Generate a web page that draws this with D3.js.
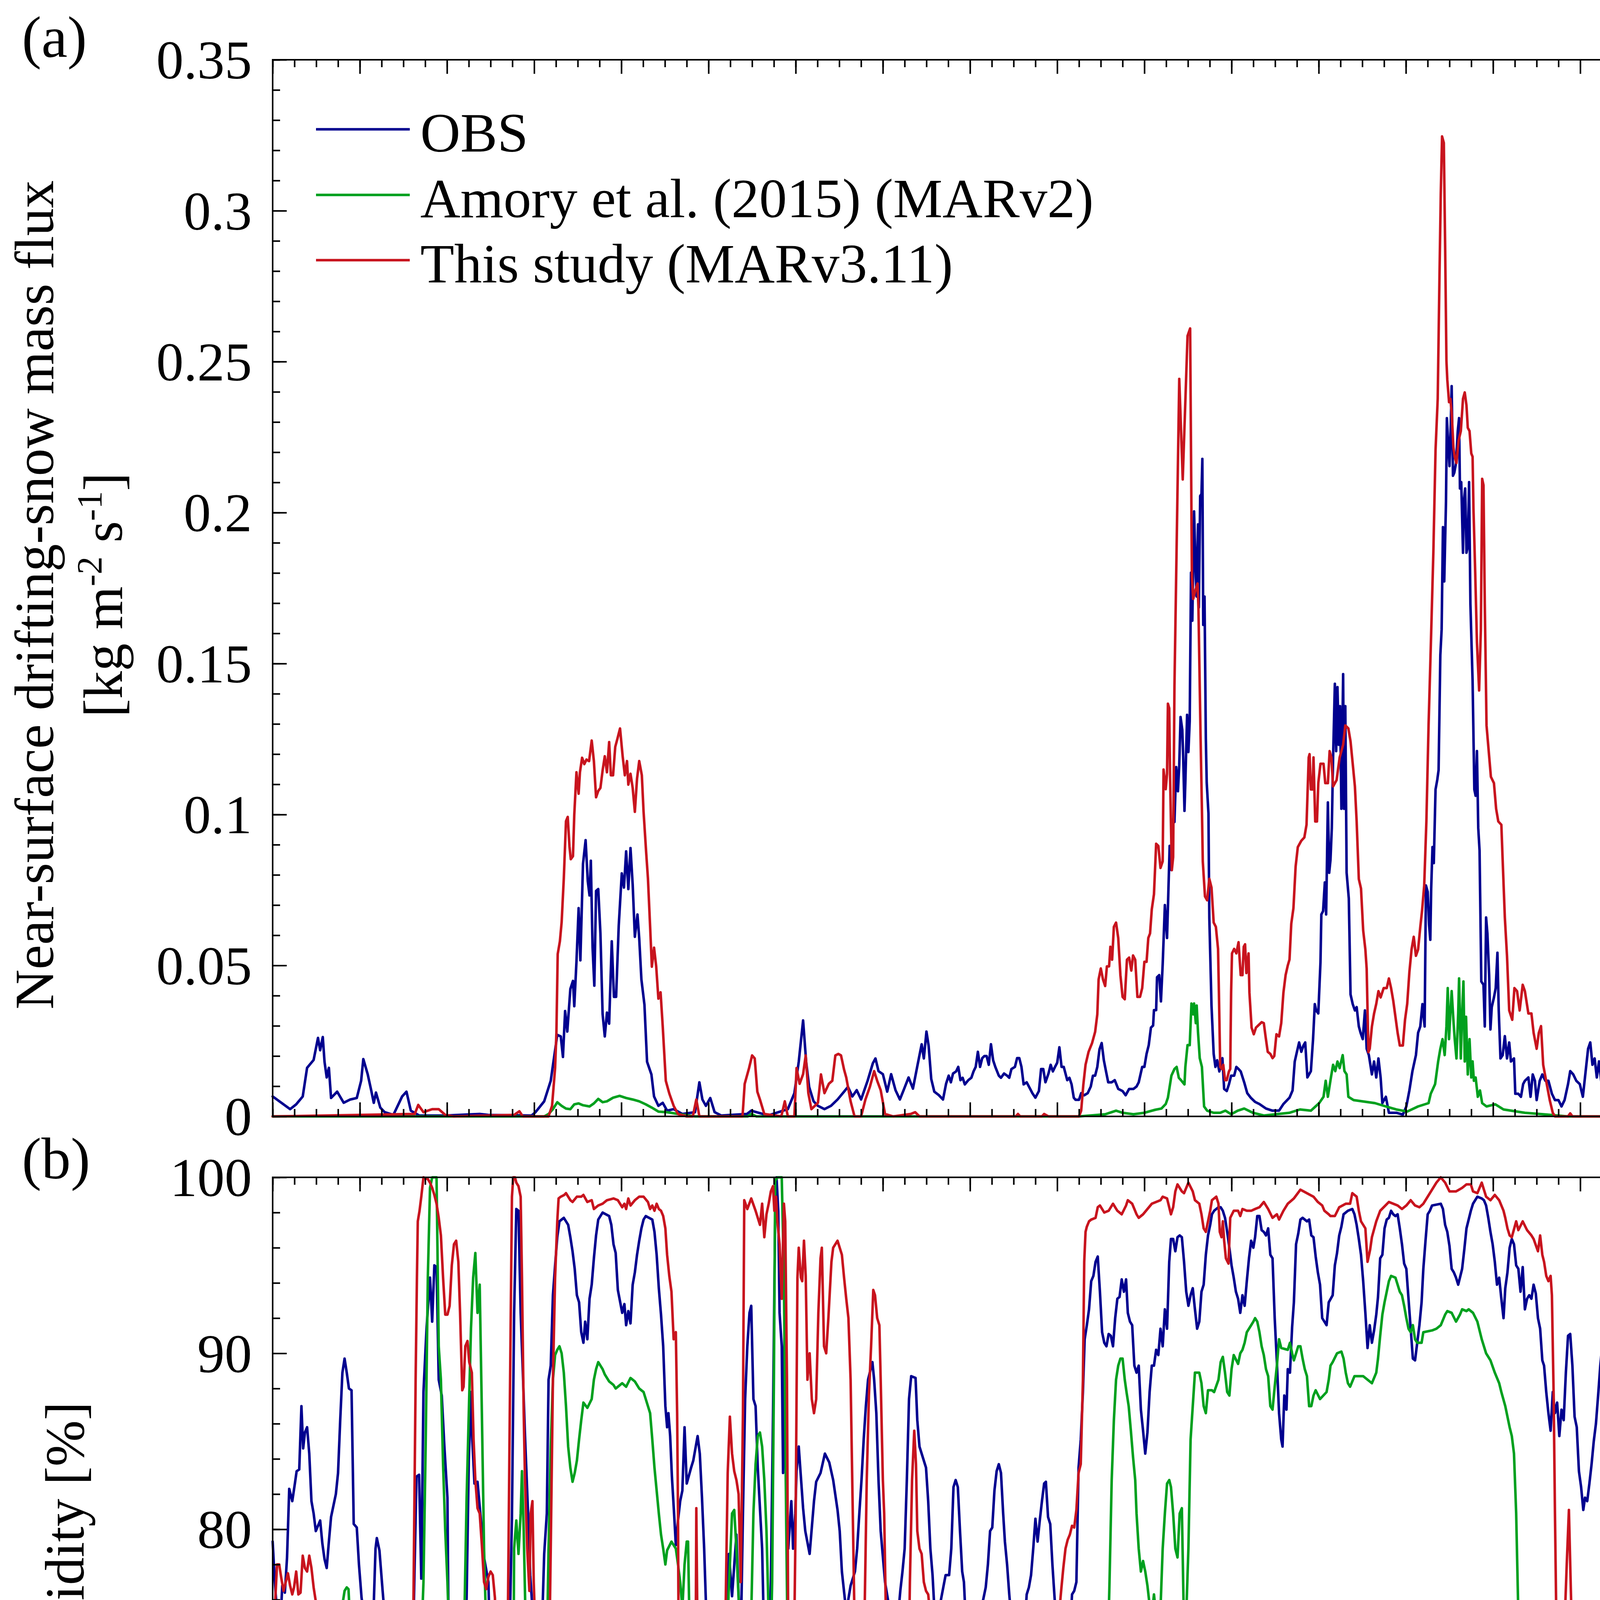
<!DOCTYPE html>
<html><head><meta charset="utf-8">
<script src="https://cdn.jsdelivr.net/npm/d3@7"></script>
<style>
html,body{margin:0;padding:0;background:#fff;overflow:hidden;}
svg{display:block;}
svg text{font-family:"Liberation Serif","Times New Roman",serif;fill:#000;}
</style>
</head><body>
<svg id="chart" width="4205" height="6151"></svg>
<script>
// ---------------- tick labels / categories ----------------
const dayLabels = [1, 11, 21, 31];
const fluxTickValues = [0, 0.05, 0.1, 0.15, 0.2, 0.25, 0.3, 0.35];
const fluxTickLabels = ["0", "0.05", "0.1", "0.15", "0.2", "0.25", "0.3", "0.35"];
const rhTickValues = [40, 50, 60, 70, 80, 90, 100];
const rhTickLabels = ["40", "50", "60", "70", "80", "90", "100"];
const seriesNames = ["OBS", "Amory et al. (2015) (MARv2)", "This study (MARv3.11)"];
const seriesColors = ["#00008f", "#00a01e", "#c8141e"];

// ---------------- (a) drifting-snow mass flux [day, kg m-2 s-1] ----------------
const fluxObs = [[1.00,0.0066],[1.20,0.0045],[1.40,0.0024],[1.54,0.0040],[1.69,0.0066],[1.79,0.0161],[1.94,0.0187],[2.04,0.0260],[2.09,0.0219],[2.15,0.0263],[2.19,0.0181],[2.24,0.0129],[2.29,0.0161],[2.34,0.0061],[2.48,0.0082],[2.63,0.0045],[2.78,0.0056],[2.93,0.0061],[3.03,0.0118],[3.08,0.0190],[3.18,0.0140],[3.26,0.0087],[3.32,0.0045],[3.37,0.0079],[3.47,0.0029],[3.57,0.0014],[3.77,0.0005],[3.97,0.0066],[4.07,0.0082],[4.17,0.0019],[4.36,0.0003],[4.96,0.0003],[5.75,0.0008],[5.95,0.0005],[6.94,0.0003],[7.03,0.0014],[7.23,0.0050],[7.38,0.0118],[7.53,0.0270],[7.61,0.0265],[7.66,0.0197],[7.71,0.0349],[7.76,0.0281],[7.83,0.0422],[7.89,0.0449],[7.92,0.0365],[7.97,0.0512],[8.02,0.0690],[8.06,0.0517],[8.12,0.0836],[8.18,0.0915],[8.23,0.0779],[8.27,0.0732],[8.30,0.0847],[8.34,0.0559],[8.38,0.0433],[8.42,0.0747],[8.47,0.0753],[8.52,0.0606],[8.57,0.0339],[8.62,0.0265],[8.67,0.0344],[8.72,0.0307],[8.78,0.0580],[8.83,0.0396],[8.88,0.0396],[8.94,0.0632],[9.01,0.0805],[9.06,0.0758],[9.11,0.0878],[9.16,0.0753],[9.21,0.0889],[9.26,0.0768],[9.31,0.0595],[9.37,0.0669],[9.41,0.0590],[9.46,0.0454],[9.53,0.0370],[9.59,0.0181],[9.69,0.0139],[9.75,0.0066],[9.85,0.0035],[9.95,0.0045],[10.05,0.0019],[10.20,0.0024],[10.40,0.0008],[10.69,0.0014],[10.79,0.0113],[10.86,0.0056],[10.94,0.0035],[11.04,0.0061],[11.14,0.0014],[11.29,0.0003],[11.88,0.0008],[11.98,0.0019],[12.37,0.0003],[12.82,0.0024],[12.97,0.0077],[13.07,0.0181],[13.17,0.0318],[13.24,0.0181],[13.31,0.0097],[13.41,0.0050],[13.51,0.0035],[13.66,0.0024],[13.81,0.0035],[13.96,0.0056],[14.11,0.0082],[14.20,0.0098],[14.30,0.0066],[14.40,0.0087],[14.50,0.0056],[14.65,0.0118],[14.77,0.0176],[14.83,0.0192],[14.90,0.0150],[15.00,0.0140],[15.10,0.0082],[15.19,0.0140],[15.29,0.0087],[15.39,0.0056],[15.49,0.0092],[15.59,0.0129],[15.69,0.0092],[15.79,0.0166],[15.89,0.0239],[15.94,0.0192],[16.00,0.0281],[16.05,0.0234],[16.11,0.0124],[16.18,0.0082],[16.28,0.0071],[16.38,0.0056],[16.45,0.0108],
[16.51,0.0135],[16.56,0.0113],[16.61,0.0142],[16.68,0.0149],[16.73,0.0164],[16.78,0.0120],[16.83,0.0128],[16.88,0.0106],[16.96,0.0120],[17.03,0.0128],[17.08,0.0149],[17.13,0.0164],[17.18,0.0214],[17.23,0.0164],[17.28,0.0193],[17.33,0.0200],[17.38,0.0200],[17.43,0.0171],[17.48,0.0239],[17.53,0.0186],[17.58,0.0164],[17.66,0.0135],[17.71,0.0128],[17.78,0.0142],[17.85,0.0135],[17.90,0.0128],[17.95,0.0157],[18.03,0.0164],[18.08,0.0193],[18.13,0.0193],[18.18,0.0164],[18.23,0.0106],[18.30,0.0113],[18.38,0.0091],[18.43,0.0077],[18.50,0.0062],[18.58,0.0084],[18.63,0.0157],[18.68,0.0157],[18.73,0.0113],[18.80,0.0142],[18.85,0.0171],[18.90,0.0149],[18.95,0.0164],[19.00,0.0178],[19.05,0.0229],[19.10,0.0164],[19.15,0.0164],[19.23,0.0120],[19.28,0.0128],[19.33,0.0106],[19.38,0.0062],[19.42,0.0055],[19.50,0.0055],[19.55,0.0077],[19.62,0.0070],[19.70,0.0077],[19.77,0.0099],[19.82,0.0135],[19.87,0.0135],[19.92,0.0164],[19.97,0.0222],[20.02,0.0243],[20.07,0.0186],[20.12,0.0149],[20.17,0.0113],[20.25,0.0113],[20.32,0.0120],[20.40,0.0091],[20.50,0.0084],[20.57,0.0070],[20.65,0.0091],[20.75,0.0091],[20.82,0.0099],[20.87,0.0113],[20.95,0.0164],[21.00,0.0164],[21.05,0.0207],[21.10,0.0236],[21.15,0.0294],[21.20,0.0301],[21.22,0.0352],[21.27,0.0352],[21.29,0.0461],[21.34,0.0468],[21.38,0.0381],[21.42,0.0504],[21.47,0.0700],[21.52,0.0591],[21.55,0.0743],[21.58,0.0896],[21.62,0.0816],[21.65,0.0983],[21.69,0.0975],[21.73,0.1157],[21.77,0.1077],[21.80,0.1164],[21.83,0.1323],[21.87,0.1280],[21.89,0.1193],[21.92,0.1012],[21.94,0.1106],[21.98,0.1330],[22.01,0.1207],[22.04,0.1309],[22.07,0.1801],[22.10,0.1642],[22.14,0.2004],[22.18,0.1787],[22.20,0.1722],[22.23,0.1961],[22.25,0.1686],[22.28,0.2055],[22.31,0.2062],[22.33,0.2178],[22.35,0.1628],[22.38,0.1722],[22.41,0.1251],[22.43,0.1106],[22.47,0.1004],[22.49,0.0657],[22.54,0.0367],[22.59,0.0207],[22.63,0.0164],[22.67,0.0186],[22.72,0.0149],[22.79,0.0193],[22.83,0.0091],[22.89,0.0084],[22.94,0.0106],[22.99,0.0135],[23.06,0.0135],[23.11,0.0164],[23.16,0.0157],[23.21,0.0149],[23.29,0.0113],[23.36,0.0077],[23.44,0.0062],[23.54,0.0048],[23.64,0.0041],[23.79,0.0026],[23.94,0.0019],[24.09,0.0019],[24.19,0.0041],[24.33,0.0062],
[24.40,0.0086],[24.45,0.0182],[24.50,0.0214],[24.55,0.0245],[24.60,0.0214],[24.65,0.0235],[24.69,0.0245],[24.74,0.0129],[24.82,0.0150],[24.87,0.0256],[24.91,0.0372],[24.94,0.0351],[24.99,0.0341],[25.04,0.0510],[25.06,0.0669],[25.10,0.0680],[25.14,0.0775],[25.17,0.0669],[25.21,0.1040],[25.24,0.0807],[25.27,0.0850],[25.30,0.0955],[25.33,0.1189],[25.37,0.1433],[25.40,0.1210],[25.43,0.1422],[25.46,0.1231],[25.49,0.1359],[25.52,0.1019],[25.56,0.1465],[25.58,0.1019],[25.61,0.1359],[25.64,0.0807],[25.69,0.0722],[25.73,0.0404],[25.78,0.0372],[25.83,0.0351],[25.87,0.0362],[25.92,0.0298],[25.96,0.0277],[26.01,0.0256],[26.06,0.0351],[26.10,0.0224],[26.15,0.0203],[26.22,0.0139],[26.27,0.0182],[26.32,0.0129],[26.37,0.0192],[26.42,0.0129],[26.46,0.0044],[26.54,0.0065],[26.61,0.0012],[26.78,0.0012],[26.93,0.0006],[27.01,0.0033],[27.08,0.0086],[27.15,0.0150],[27.23,0.0203],[27.28,0.0277],[27.33,0.0298],[27.38,0.0372],[27.43,0.0298],[27.46,0.0765],[27.50,0.0744],[27.53,0.0638],[27.56,0.0585],[27.58,0.0754],[27.61,0.0892],[27.64,0.0839],[27.68,0.1083],[27.72,0.1115],[27.75,0.1147],[27.79,0.1528],[27.82,0.1613],[27.85,0.1952],[27.88,0.1772],[27.92,0.2037],[27.94,0.2313],[27.97,0.2228],[28.00,0.2154],[28.03,0.2292],[28.05,0.2419],[28.08,0.2122],[28.11,0.2132],[28.15,0.2164],[28.19,0.2270],[28.22,0.2313],[28.24,0.2080],[28.27,0.2101],[28.31,0.1867],[28.33,0.2037],[28.36,0.2080],[28.39,0.1867],[28.42,0.1888],[28.45,0.2101],[28.48,0.1698],[28.53,0.1443],[28.57,0.1083],[28.60,0.1062],[28.63,0.1210],[28.66,0.0955],[28.69,0.0881],[28.73,0.0447],[28.78,0.0436],[28.81,0.0298],[28.84,0.0659],[28.87,0.0606],[28.91,0.0468],[28.94,0.0288],[28.97,0.0362],[29.02,0.0394],[29.06,0.0425],[29.10,0.0542],[29.13,0.0351],[29.17,0.0192],[29.22,0.0203],[29.27,0.0266],[29.32,0.0192],[29.37,0.0245],[29.41,0.0182],[29.48,0.0192],[29.51,0.0075],[29.58,0.0075],[29.64,0.0065],[29.69,0.0107],[29.73,0.0118],[29.81,0.0129],[29.86,0.0065],[29.91,0.0139],[29.96,0.0118],[30.00,0.0054],[30.07,0.0118],[30.13,0.0139],[30.20,0.0118],[30.27,0.0118],[30.35,0.0075],[30.42,0.0054],[30.50,0.0054],[30.57,0.0033],[30.64,0.0054],[30.72,0.0107],[30.77,0.0150],[30.84,0.0139],[30.91,0.0118],[30.99,0.0107],[31.06,0.0065],[31.14,0.0171],[31.18,0.0224],[31.23,0.0245],[31.28,0.0171],[31.33,0.0192],[31.38,0.0129],[31.43,0.0182],[31.48,0.0118],[31.55,0.0065],[31.63,0.0033],[31.70,0.0012],[31.80,0.0022],[31.87,0.0027],[31.95,0.0012],[32.00,0.0044]];

const fluxMARv2 = [[1.00,0],[7.23,0],[7.33,0.0008],[7.43,0.0024],[7.53,0.0047],[7.63,0.0035],[7.73,0.0026],[7.83,0.0024],[7.92,0.0040],[8.02,0.0043],[8.12,0.0037],[8.27,0.0033],[8.37,0.0043],[8.47,0.0058],[8.57,0.0047],[8.67,0.0050],[8.81,0.0062],[8.96,0.0068],[9.11,0.0061],[9.26,0.0056],[9.41,0.0050],[9.56,0.0040],[9.70,0.0029],[9.85,0.0016],[10.05,0.0014],[10.30,0.0008],[10.69,0],[11.90,0],[11.98,0.0008],[12.10,0],
[19.50,0],[20.10,0.0007],[20.35,0.0019],[20.50,0.0012],[20.75,0.0007],[21.00,0.0012],[21.25,0.0022],[21.39,0.0026],[21.49,0.0041],[21.54,0.0062],[21.62,0.0135],[21.69,0.0157],[21.74,0.0164],[21.79,0.0128],[21.84,0.0120],[21.92,0.0106],[21.94,0.0164],[21.99,0.0236],[22.04,0.0236],[22.08,0.0374],[22.12,0.0338],[22.14,0.0374],[22.18,0.0309],[22.20,0.0367],[22.23,0.0280],[22.27,0.0193],[22.32,0.0164],[22.37,0.0033],[22.44,0.0019],[22.59,0.0012],[22.74,0.0012],[22.86,0.0019],[22.99,0.0007],[23.14,0.0019],[23.29,0.0026],[23.49,0.0012],[23.74,0.0003],
[24.33,0.0012],[24.57,0.0023],[24.82,0.0019],[25.01,0.0044],[25.11,0.0065],[25.16,0.0118],[25.21,0.0065],[25.28,0.0129],[25.33,0.0171],[25.38,0.0150],[25.43,0.0182],[25.48,0.0160],[25.55,0.0203],[25.59,0.0150],[25.64,0.0139],[25.68,0.0065],[25.80,0.0054],[26.29,0.0044],[26.54,0.0033],[26.78,0.0023],[27.03,0.0016],[27.28,0.0033],[27.52,0.0044],[27.57,0.0075],[27.67,0.0107],[27.74,0.0182],[27.79,0.0224],[27.84,0.0256],[27.89,0.0203],[27.93,0.0298],[27.96,0.0425],[27.99,0.0256],[28.02,0.0341],[28.05,0.0415],[28.09,0.0319],[28.12,0.0256],[28.16,0.0192],[28.20,0.0341],[28.22,0.0457],[28.26,0.0192],[28.29,0.0341],[28.32,0.0447],[28.35,0.0182],[28.38,0.0330],[28.42,0.0139],[28.46,0.0256],[28.50,0.0129],[28.53,0.0182],[28.56,0.0118],[28.60,0.0129],[28.65,0.0065],[28.70,0.0086],[28.75,0.0044],[28.85,0.0033],[29.05,0.0040],[29.24,0.0023],[29.73,0.0012],[30.23,0.0006],[30.72,0],[32.00,0]];

const fluxMARv311 = [[1.00,0],[4.26,0.0008],[4.34,0.0038],[4.46,0.0014],[4.66,0.0024],[4.81,0.0024],[4.96,0.0005],[5.15,0],[6.54,0.0005],[6.66,0.0017],[6.74,0],[7.33,0],[7.41,0.0035],[7.48,0.0160],[7.51,0.0276],[7.54,0.0538],[7.59,0.0580],[7.63,0.0643],[7.68,0.0789],[7.73,0.0978],[7.77,0.0992],[7.81,0.0894],[7.84,0.0852],[7.89,0.0862],[7.92,0.0999],[7.97,0.1140],[8.02,0.1069],[8.05,0.1140],[8.10,0.1188],[8.15,0.1167],[8.20,0.1182],[8.26,0.1177],[8.32,0.1245],[8.37,0.1177],[8.42,0.1057],[8.47,0.1078],[8.52,0.1088],[8.57,0.1146],[8.62,0.1193],[8.67,0.1140],[8.72,0.1240],[8.76,0.1130],[8.81,0.1130],[8.86,0.1224],[8.91,0.1251],[8.97,0.1285],[9.03,0.1193],[9.08,0.1130],[9.13,0.1177],[9.16,0.1099],[9.21,0.1135],[9.26,0.1088],[9.31,0.1009],[9.36,0.1119],[9.41,0.1177],[9.47,0.1130],[9.51,0.1009],[9.57,0.0873],[9.61,0.0789],[9.66,0.0629],[9.70,0.0496],[9.75,0.0559],[9.80,0.0496],[9.85,0.0390],[9.90,0.0411],[9.95,0.0297],[10.02,0.0118],[10.10,0.0076],[10.20,0.0035],[10.30,0.0008],[10.50,0],[10.64,0],[10.72,0.0056],[10.79,0],[11.78,0],[11.83,0.0108],[11.93,0.0160],[12.00,0.0202],[12.06,0.0192],[12.12,0.0082],[12.18,0.0056],[12.28,0.0008],[12.67,0],[12.75,0.0050],[12.82,0],[12.97,0],[13.02,0.0160],[13.09,0.0108],[13.17,0.0140],[13.23,0.0202],[13.29,0.0077],[13.36,0.0024],[13.44,0.0035],[13.51,0.0045],[13.58,0.0139],[13.66,0.0077],[13.76,0.0108],[13.84,0.0118],[13.91,0.0202],[13.98,0.0207],[14.04,0.0202],[14.11,0.0155],[14.16,0.0129],[14.26,0.0050],[14.35,0],[14.50,0],[14.60,0.0056],[14.70,0.0097],[14.80,0.0150],[14.87,0.0118],[14.95,0.0087],[15.05,0.0008],[15.24,0],[15.64,0.0008],[15.74,0.0014],[15.84,0],[18.05,0],[18.10,0.0008],[18.15,0],[18.65,0],[18.70,0.0008],[18.80,0],[19.50,0],
[19.55,0.0019],[19.60,0.0106],[19.65,0.0171],[19.72,0.0214],[19.80,0.0243],[19.87,0.0280],[19.92,0.0338],[19.95,0.0454],[20.00,0.0490],[20.05,0.0454],[20.10,0.0432],[20.14,0.0497],[20.19,0.0497],[20.22,0.0562],[20.26,0.0519],[20.30,0.0628],[20.35,0.0642],[20.40,0.0591],[20.45,0.0468],[20.50,0.0396],[20.55,0.0388],[20.60,0.0519],[20.65,0.0526],[20.70,0.0483],[20.74,0.0533],[20.79,0.0519],[20.84,0.0396],[20.90,0.0396],[20.95,0.0425],[21.00,0.0512],[21.05,0.0512],[21.09,0.0591],[21.13,0.0606],[21.17,0.0686],[21.22,0.0736],[21.27,0.0903],[21.32,0.0896],[21.37,0.0823],[21.42,0.0845],[21.44,0.1149],[21.49,0.1084],[21.52,0.1135],[21.54,0.1367],[21.57,0.1352],[21.59,0.1120],[21.63,0.0816],[21.66,0.0859],[21.69,0.1425],[21.80,0.2443],[21.88,0.2110],[21.99,0.2585],[22.05,0.2610],[22.09,0.1787],[22.12,0.1714],[22.17,0.1743],[22.22,0.1765],[22.24,0.1686],[22.29,0.1251],[22.32,0.1019],[22.34,0.0845],[22.39,0.0729],[22.44,0.0716],[22.49,0.0787],[22.54,0.0758],[22.59,0.0642],[22.64,0.0628],[22.69,0.0555],[22.71,0.0410],[22.74,0.0164],[22.78,0.0157],[22.81,0.0171],[22.85,0.0120],[22.89,0.0120],[22.94,0.0149],[22.97,0.0157],[22.99,0.0410],[23.01,0.0540],[23.06,0.0555],[23.11,0.0540],[23.16,0.0577],[23.21,0.0468],[23.25,0.0468],[23.28,0.0562],[23.31,0.0570],[23.34,0.0475],[23.39,0.0540],[23.41,0.0410],[23.46,0.0294],[23.51,0.0272],[23.56,0.0294],[23.61,0.0301],[23.69,0.0312],[23.74,0.0309],[23.78,0.0265],[23.83,0.0214],[23.89,0.0207],[23.94,0.0193],[23.98,0.0200],[24.03,0.0272],[24.09,0.0265],[24.14,0.0309],[24.19,0.0410],[24.24,0.0468],[24.29,0.0500],
[24.33,0.0520],[24.37,0.0638],[24.42,0.0690],[24.47,0.0828],[24.52,0.0892],[24.60,0.0913],[24.67,0.0924],[24.72,0.0966],[24.77,0.1189],[24.79,0.1200],[24.82,0.1083],[24.86,0.1083],[24.88,0.1189],[24.92,0.0977],[24.96,0.0977],[24.99,0.1104],[25.04,0.1168],[25.11,0.1168],[25.15,0.1104],[25.21,0.1104],[25.25,0.1210],[25.29,0.1189],[25.33,0.1093],[25.41,0.1114],[25.48,0.1189],[25.56,0.1231],[25.61,0.1295],[25.68,0.1285],[25.73,0.1242],[25.78,0.1168],[25.83,0.1093],[25.87,0.0977],[25.92,0.0786],[25.97,0.0755],[26.02,0.0616],[26.07,0.0553],[26.10,0.0489],[26.14,0.0213],[26.17,0.0224],[26.22,0.0298],[26.27,0.0341],[26.32,0.0373],[26.37,0.0415],[26.42,0.0394],[26.49,0.0425],[26.56,0.0425],[26.61,0.0457],[26.66,0.0425],[26.71,0.0383],[26.76,0.0330],[26.81,0.0277],[26.86,0.0235],[26.93,0.0235],[26.98,0.0320],[27.03,0.0373],[27.08,0.0478],[27.13,0.0553],[27.18,0.0595],[27.23,0.0532],[27.28,0.0553],[27.33,0.0627],[27.37,0.0680],[27.42,0.0765],[27.47,0.0977],[27.52,0.1295],[27.57,0.1550],[27.63,0.1868],[27.68,0.2207],[27.73,0.2377],[27.77,0.2779],[27.80,0.3055],[27.83,0.3246],[27.87,0.3225],[27.90,0.2886],[27.93,0.2503],[27.95,0.2440],[27.99,0.2366],[28.02,0.2377],[28.05,0.2333],[28.09,0.2217],[28.12,0.2185],[28.16,0.2164],[28.21,0.2239],[28.26,0.2270],[28.31,0.2377],[28.35,0.2398],[28.39,0.2355],[28.42,0.2281],[28.46,0.2270],[28.50,0.2196],[28.53,0.2185],[28.55,0.2015],[28.59,0.1803],[28.63,0.1570],[28.68,0.1411],[28.72,0.1613],[28.75,0.2112],[28.78,0.2091],[28.81,0.1698],[28.85,0.1295],[28.90,0.1210],[28.95,0.1125],[29.02,0.1104],[29.07,0.1019],[29.12,0.0977],[29.19,0.0966],[29.22,0.0849],[29.27,0.0659],[29.32,0.0531],[29.37,0.0351],[29.44,0.0320],[29.49,0.0425],[29.55,0.0415],[29.61,0.0351],[29.68,0.0436],[29.73,0.0415],[29.81,0.0341],[29.88,0.0341],[29.93,0.0277],[30.00,0.0224],[30.05,0.0277],[30.10,0.0299],[30.15,0.0171],[30.23,0.0108],[30.30,0.0054],[30.37,0.0012],[30.42,0],[30.72,0],[30.77,0.0010],[30.82,0],[32.00,0]];

// ---------------- (b) 2 m relative humidity [day, %] ----------------
const rhObs = [[1.00,79.3],[1.05,77.0],[1.10,75.3],[1.16,73.6],[1.22,76.8],[1.28,76.4],[1.33,78.4],[1.38,82.3],[1.45,81.6],[1.51,82.6],[1.55,83.3],[1.61,83.4],[1.66,87.0],[1.70,84.6],[1.74,85.5],[1.79,85.8],[1.84,84.3],[1.89,81.6],[1.94,80.9],[1.99,79.9],[2.09,80.5],[2.14,79.2],[2.19,78.3],[2.24,77.8],[2.29,79.3],[2.34,80.7],[2.45,82.0],[2.50,83.2],[2.55,86.2],[2.60,88.9],[2.65,89.7],[2.70,88.9],[2.75,88.0],[2.81,87.9],[2.86,80.3],[2.93,80.1],[2.98,78.0],[3.04,76.1],[3.10,75.1],[3.16,74.3],[3.20,74.2],[3.26,75.1],[3.31,75.0],[3.36,78.9],[3.39,79.5],[3.45,78.8],[3.52,76.6],[3.57,75.1],[3.62,74.1],[3.67,72.2],[3.72,67.3],[3.77,64.2],[3.82,66.8],[3.87,68.8],[3.90,62.4],[3.97,66.0],[4.02,68.6],[4.07,64.6],[4.12,61.5],[4.17,69.2],[4.22,73.4],[4.30,83.0],[4.36,83.1],[4.41,77.2],[4.46,87.8],[4.53,91.4],[4.61,94.3],[4.66,91.8],[4.71,95.0],[4.76,94.9],[4.81,88.5],[4.88,87.6],[4.94,84.7],[5.01,81.8],[5.04,73.2],[5.06,64.6],[5.14,69.3],[5.18,66.4],[5.24,64.6],[5.28,66.4],[5.32,70.0],[5.35,71.5],[5.40,73.2],[5.45,76.1],[5.50,83.9],[5.55,87.8],[5.58,85.1],[5.63,82.6],[5.70,82.7],[5.80,79.9],[5.85,78.4],[5.95,77.0],[6.00,72.2],[6.10,63.5],[6.15,56.6],[6.20,53.2],[6.24,53.0],[6.29,53.7],[6.34,48.0],[6.37,65.8],[6.41,66.4],[6.44,74.5],[6.49,80.7],[6.54,92.3],[6.59,98.2],[6.64,98.1],[6.69,92.3],[6.74,88.9],[6.79,85.3],[6.86,80.9],[6.91,77.4],[6.97,75.1],[7.04,74.5],[7.09,74.0],[7.14,75.5],[7.19,75.3],[7.23,78.6],[7.29,80.9],[7.33,88.5],[7.38,89.3],[7.43,93.3],[7.48,95.0],[7.53,96.6],[7.58,97.5],[7.68,97.7],[7.78,97.3],[7.83,96.6],[7.88,95.8],[7.93,94.8],[7.98,93.3],[8.03,92.9],[8.08,91.2],[8.13,90.6],[8.17,91.8],[8.22,90.8],[8.27,93.1],[8.32,93.9],[8.37,95.4],[8.42,96.7],[8.47,97.6],[8.57,98.0],[8.72,97.8],[8.77,97.3],[8.82,96.2],[8.87,95.7],[8.92,93.6],[9.02,92.3],[9.07,92.8],[9.11,91.6],[9.16,92.4],[9.21,91.7],[9.26,93.9],[9.31,94.6],[9.36,95.6],[9.41,96.4],[9.46,97.1],[9.51,97.6],[9.56,97.8],[9.71,97.6],[9.76,96.9],[9.81,95.6],[9.86,93.7],[9.91,92.2],[9.96,90.4],[10.01,87.0],[10.05,85.8],[10.08,86.6],[10.12,85.3],[10.16,83.0],[10.21,80.9],[10.25,79.1],[10.30,80.5],[10.35,81.6],[10.40,82.2],[10.45,85.8],[10.50,82.6],[10.60,83.5],[10.65,83.9],[10.75,85.3],[10.80,84.3],[10.85,81.8],[10.90,78.9],[10.95,75.1],[11.00,73.6],[11.07,72.1],[11.11,68.7],[11.14,69.6],[11.19,67.7],[11.24,63.9],[11.29,66.2],[11.34,70.0],[11.37,73.2],[11.41,75.1],[11.47,78.6],[11.54,76.2],[11.64,79.7],[11.69,76.3],[11.74,73.6],[11.79,80.9],[11.84,87.4],[11.89,90.4],[11.94,92.3],[11.98,92.7],[12.03,87.4],[12.08,87.0],[12.13,83.5],[12.23,78.9],[12.28,73.2],[12.33,69.0],[12.38,72.2],[12.43,77.0],[12.48,86.6],[12.53,98.1],[12.56,100],[12.60,98.1],[12.63,92.3],[12.68,90.4],[12.71,83.2],[12.75,93.1],[12.78,81.8],[12.83,78.9],[12.90,81.6],[12.94,78.9],[12.99,80.9],[13.02,83.3],[13.07,84.7],[13.17,81.2],[13.22,79.9],[13.32,78.6],[13.42,81.6],[13.47,82.7],[13.57,83.2],[13.67,84.3],[13.77,83.8],[13.86,82.8],[13.96,81.1],[14.01,79.9],[14.06,77.6],[14.16,75.3],[14.26,76.8],[14.36,77.6],[14.41,78.9],[14.46,80.9],[14.51,82.8],[14.56,85.1],[14.61,87.0],[14.66,88.5],[14.76,89.5],[14.80,88.5],[14.85,86.6],[14.90,82.8],[14.95,79.9],[15.05,77.0],[15.15,75.5],[15.20,74.7],[15.35,75.1],[15.40,76.5],[15.45,77.6],[15.50,78.9],[15.55,82.8],[15.60,87.4],[15.65,88.7],[15.75,88.6],[15.79,86.2],[15.84,84.7],[15.99,83.5],[16.04,81.6],[16.09,78.9],[16.14,77.4],[16.19,75.1],[16.24,74.7],[16.34,76.1],[16.44,77.4],[16.52,77.4],[16.57,78.9],[16.62,82.4],[16.67,82.8],[16.72,82.4],[16.77,79.9],[16.82,77.6],[16.86,77.0],[16.91,74.4],[16.96,73.4],[17.01,73.2],[17.06,71.7],[17.11,71.9],[17.16,72.6],[17.21,74.0],[17.26,75.5],[17.31,76.1],[17.36,76.7],[17.41,78.0],[17.46,79.9],[17.51,80.1],[17.56,82.2],[17.61,83.3],[17.66,83.7],[17.71,83.2],[17.76,80.9],[17.80,79.3],[17.85,78.0],[17.90,76.3],[17.95,74.9],[18.00,74.2],[18.05,73.6],[18.10,74.0],[18.15,73.6],[18.20,73.2],[18.25,74.4],[18.30,76.3],[18.35,76.7],[18.40,77.4],[18.45,78.9],[18.50,80.6],[18.55,79.3],[18.60,80.5],[18.65,81.6],[18.70,82.6],[18.74,82.7],[18.79,80.7],[18.84,80.3],[18.89,78.0],[18.94,76.1],[18.99,74.4],[19.04,74.9],[19.09,73.4],[19.14,73.4],[19.19,72.2],[19.24,71.9],[19.29,73.8],[19.34,76.3],[19.39,76.5],[19.44,77.0],[19.49,83.5],[19.54,85.1],[19.59,87.8],[19.63,90.8],[19.68,91.6],[19.73,92.5],[19.78,94.1],[19.83,94.4],[19.88,95.2],[19.93,95.5],[19.98,93.5],[20.03,91.2],[20.08,90.6],[20.13,90.4],[20.18,91.1],[20.23,91.0],[20.28,90.4],[20.33,92.0],[20.38,93.1],[20.43,93.2],[20.48,94.2],[20.53,93.5],[20.58,94.2],[20.62,92.3],[20.67,91.8],[20.72,91.6],[20.77,89.3],[20.82,88.9],[20.87,89.3],[20.92,86.8],[20.97,85.6],[21.02,84.3],[21.07,85.5],[21.12,87.8],[21.17,89.3],[21.22,89.3],[21.27,90.2],[21.32,89.9],[21.37,91.4],[21.42,90.4],[21.47,92.5],[21.52,91.4],[21.57,95.2],[21.61,96.5],[21.66,96.5],[21.71,95.8],[21.76,96.6],[21.81,96.7],[21.86,96.6],[21.91,95.2],[21.96,93.5],[22.01,92.7],[22.06,93.3],[22.11,93.7],[22.16,92.5],[22.21,91.4],[22.26,91.8],[22.31,93.5],[22.36,93.9],[22.41,95.6],[22.46,96.7],[22.51,97.3],[22.55,97.9],[22.60,98.1],[22.65,98.2],[22.70,98.3],[22.75,98.3],[22.80,98.1],[22.85,97.7],[22.90,96.9],[22.95,96.0],[23.00,95.0],[23.05,94.3],[23.10,93.5],[23.15,93.1],[23.20,92.3],[23.25,93.3],[23.30,92.7],[23.35,94.1],[23.40,95.4],[23.45,96.4],[23.50,96.0],[23.54,96.6],[23.59,97.8],[23.64,97.8],[23.69,97.0],[23.74,96.9],[23.79,96.7],[23.84,97.1],[23.89,95.6],[23.94,95.4],[23.99,92.0],[24.04,89.5],[24.09,86.6],[24.14,85.1],[24.17,84.7],[24.21,87.6],[24.26,86.8],[24.29,89.1],[24.34,88.9],[24.39,91.5],[24.43,92.9],[24.48,96.2],[24.53,96.8],[24.58,97.6],[24.63,97.7],[24.73,97.5],[24.78,97.6],[24.83,96.7],[24.88,96.6],[24.93,95.5],[24.98,94.6],[25.03,93.9],[25.08,92.0],[25.13,91.8],[25.18,91.6],[25.23,92.9],[25.32,93.3],[25.37,95.0],[25.42,95.7],[25.47,96.7],[25.52,97.2],[25.57,97.9],[25.67,98.1],[25.77,98.2],[25.82,97.9],[25.87,97.3],[25.92,96.5],[25.97,95.6],[26.02,94.1],[26.07,92.3],[26.12,90.3],[26.17,91.6],[26.22,90.6],[26.27,91.3],[26.32,92.2],[26.36,93.2],[26.41,95.4],[26.46,95.6],[26.51,97.1],[26.56,97.6],[26.61,97.7],[26.66,98.1],[26.71,97.9],[26.76,97.8],[26.81,97.9],[26.86,97.1],[26.91,96.2],[26.96,95.1],[27.01,94.8],[27.06,93.1],[27.11,91.4],[27.16,89.7],[27.21,89.6],[27.26,90.6],[27.31,91.6],[27.36,92.9],[27.40,94.8],[27.45,96.4],[27.50,97.9],[27.55,98.1],[27.60,98.4],[27.80,98.5],[27.85,98.2],[27.90,97.3],[27.95,96.9],[28.00,96.1],[28.05,94.8],[28.10,94.6],[28.15,94.3],[28.20,93.9],[28.24,94.3],[28.29,94.8],[28.34,95.9],[28.39,97.1],[28.44,97.6],[28.49,98.1],[28.54,98.5],[28.59,98.7],[28.64,98.9],[28.74,98.8],[28.79,98.7],[28.84,98.4],[28.89,97.7],[28.94,96.9],[28.99,96.2],[29.04,95.2],[29.09,93.9],[29.14,94.3],[29.19,93.1],[29.24,92.0],[29.28,93.7],[29.33,94.6],[29.38,96.0],[29.43,96.5],[29.48,96.2],[29.53,95.0],[29.58,94.8],[29.63,93.5],[29.68,94.9],[29.73,92.5],[29.78,93.1],[29.83,93.3],[29.88,93.1],[29.93,93.9],[29.98,93.4],[30.03,92.0],[30.08,91.4],[30.13,89.6],[30.17,89.3],[30.22,87.8],[30.27,86.6],[30.32,85.6],[30.37,87.8],[30.42,86.6],[30.47,87.2],[30.52,85.3],[30.57,86.8],[30.62,86.2],[30.67,88.9],[30.72,91.0],[30.77,91.1],[30.82,89.3],[30.87,86.4],[30.92,85.8],[30.97,83.3],[31.02,82.4],[31.07,81.1],[31.11,81.8],[31.16,81.6],[31.21,82.6],[31.26,83.7],[31.31,85.0],[31.36,86.0],[31.41,87.6],[31.46,89.3],[31.51,90.6],[31.56,92.3],[31.61,93.4],[31.66,92.0],[31.71,91.4],[31.76,92.0],[31.81,91.6],[31.86,86.6],[31.91,85.5],[31.96,83.9],[32.00,86.2]];

const rhMARv2 = [[1.00,64.3],[1.05,62.0],[1.10,59.5],[1.15,57.0],[1.20,55.3],[1.25,54.7],[1.30,53.4],[1.35,53.2],[1.40,55.5],[1.45,61.4],[1.49,63.5],[1.52,63.6],[1.56,63.3],[1.59,60.8],[1.64,58.5],[1.69,56.4],[1.74,52.8],[1.79,51.5],[1.84,49.7],[1.89,49.4],[1.92,49.3],[1.96,49.6],[1.99,50.9],[2.04,51.8],[2.09,53.2],[2.14,54.7],[2.19,56.0],[2.24,56.4],[2.29,57.8],[2.34,59.3],[2.39,63.3],[2.43,70.0],[2.50,73.6],[2.55,75.3],[2.60,75.7],[2.65,76.5],[2.70,76.7],[2.74,76.6],[2.78,74.5],[2.83,69.0],[2.88,67.5],[2.93,63.7],[2.98,62.5],[3.03,61.2],[3.08,59.8],[3.13,59.3],[3.18,58.5],[3.23,57.4],[3.28,57.0],[3.33,59.1],[3.38,62.7],[3.42,65.6],[3.47,67.5],[3.52,68.6],[3.55,68.5],[3.59,67.1],[3.62,64.3],[3.67,61.4],[3.72,59.3],[3.77,58.7],[3.82,57.0],[3.87,55.9],[3.92,55.4],[4.02,55.6],[4.07,55.5],[4.12,56.6],[4.17,56.6],[4.20,54.7],[4.23,50.7],[4.27,52.8],[4.32,56.6],[4.36,70.0],[4.46,77.0],[4.51,84.7],[4.56,94.3],[4.61,99.4],[4.66,100],[4.76,100],[4.81,90.4],[4.86,88.5],[4.91,83.7],[4.96,79.9],[5.01,77.0],[5.06,73.2],[5.09,70.0],[5.11,68.1],[5.16,66.7],[5.21,67.7],[5.26,69.0],[5.30,70.0],[5.36,71.3],[5.40,75.1],[5.45,81.8],[5.50,86.6],[5.55,91.4],[5.60,94.3],[5.65,95.7],[5.70,92.3],[5.75,93.9],[5.80,86.6],[5.85,78.9],[5.90,74.2],[5.95,70.0],[6.00,68.9],[6.05,65.2],[6.10,60.4],[6.15,56.6],[6.20,52.8],[6.24,49.0],[6.29,46.1],[6.32,45.9],[6.36,46.7],[6.39,49.0],[6.42,56.6],[6.46,66.2],[6.49,67.7],[6.52,70.0],[6.54,78.9],[6.59,80.5],[6.64,78.6],[6.69,80.9],[6.72,83.3],[6.76,79.9],[6.80,75.1],[6.84,71.7],[6.89,70.0],[6.99,61.0],[7.04,58.3],[7.09,57.8],[7.14,59.3],[7.19,64.3],[7.23,68.1],[7.28,71.3],[7.33,78.9],[7.38,84.7],[7.43,88.5],[7.48,89.9],[7.53,90.2],[7.58,90.4],[7.63,90.0],[7.68,88.9],[7.73,87.0],[7.78,84.7],[7.83,83.5],[7.88,82.7],[7.93,83.2],[7.98,83.9],[8.03,85.1],[8.08,86.2],[8.13,87.2],[8.22,86.9],[8.32,87.4],[8.37,88.5],[8.42,89.1],[8.47,89.5],[8.57,89.1],[8.62,88.8],[8.72,88.4],[8.82,88.2],[8.87,88.0],[9.02,88.3],[9.11,88.1],[9.21,88.6],[9.31,88.4],[9.41,88.0],[9.51,87.8],[9.61,87.0],[9.66,86.6],[9.71,85.1],[9.76,83.5],[9.81,82.2],[9.86,80.9],[9.91,79.7],[9.96,78.9],[10.01,78.0],[10.05,78.8],[10.15,79.3],[10.25,78.9],[10.30,78.0],[10.35,77.0],[10.40,75.5],[10.45,78.0],[10.50,79.3],[10.53,79.3],[10.56,75.1],[10.60,70.0],[10.65,66.2],[10.70,63.3],[10.75,62.0],[10.80,60.8],[10.85,59.3],[10.90,58.5],[10.95,58.1],[11.00,57.0],[11.04,56.6],[11.09,55.7],[11.14,54.7],[11.19,53.0],[11.24,53.4],[11.29,54.7],[11.34,60.4],[11.39,70.0],[11.44,75.1],[11.49,78.0],[11.54,80.9],[11.59,81.1],[11.64,78.9],[11.69,76.1],[11.74,72.2],[11.79,69.6],[11.84,69.0],[11.91,68.9],[11.94,70.0],[11.98,75.1],[12.03,80.9],[12.08,83.7],[12.13,85.3],[12.18,85.5],[12.23,84.7],[12.28,82.8],[12.33,79.9],[12.38,75.1],[12.43,73.6],[12.46,77.0],[12.50,88.5],[12.53,99.8],[12.58,100],[12.68,100],[12.73,94.3],[12.78,80.9],[12.83,70.0],[12.88,67.1],[12.90,65.3],[12.95,65.5],[12.99,63.7],[13.02,61.9],[13.12,61.6],[13.17,62.2],[13.22,62.0],[13.27,60.4],[13.32,59.3],[13.37,60.6],[13.40,62.9],[13.45,60.4],[13.49,62.4],[13.54,62.0],[13.64,60.4],[13.69,59.9],[13.74,59.1],[13.84,58.5],[13.88,58.0],[13.93,58.5],[14.08,58.0],[14.13,57.6],[14.18,57.0],[14.23,56.2],[14.28,55.5],[14.33,54.7],[14.36,56.3],[14.41,55.5],[14.46,57.4],[14.51,60.4],[14.56,60.6],[14.61,59.5],[14.66,58.3],[14.76,58.9],[14.85,58.9],[14.90,58.5],[14.95,58.0],[15.00,57.7],[15.05,57.4],[15.15,57.0],[15.20,56.2],[15.25,54.9],[15.30,54.3],[15.35,53.6],[15.40,53.9],[15.45,55.5],[15.50,56.6],[15.55,58.0],[15.60,58.1],[15.65,58.0],[15.70,59.1],[15.75,60.8],[15.79,62.2],[15.84,62.7],[15.89,63.0],[15.99,63.0],[16.04,62.2],[16.09,61.4],[16.14,60.2],[16.19,57.8],[16.24,54.9],[16.29,52.8],[16.34,52.2],[16.39,54.7],[16.44,59.3],[16.52,59.3],[16.57,58.9],[16.67,58.3],[16.72,57.6],[16.77,57.2],[16.82,56.6],[16.86,55.5],[16.91,54.9],[17.01,54.7],[17.11,55.1],[17.16,55.5],[17.21,55.6],[17.26,54.5],[17.31,55.1],[17.36,55.5],[17.41,56.2],[17.46,57.2],[17.51,58.5],[17.56,60.0],[17.66,60.0],[17.71,59.8],[17.80,59.7],[17.85,59.3],[17.90,58.7],[17.95,58.7],[18.00,59.5],[18.05,60.4],[18.10,62.4],[18.15,63.1],[18.20,65.0],[18.25,65.2],[18.30,66.2],[18.35,67.1],[18.40,68.1],[18.45,69.6],[18.50,70.5],[18.55,72.2],[18.60,72.0],[18.65,71.7],[18.70,70.5],[18.74,69.0],[18.79,66.6],[18.84,64.3],[18.89,61.4],[18.94,58.5],[18.99,57.8],[19.04,57.3],[19.09,57.4],[19.14,58.0],[19.19,58.0],[19.24,56.6],[19.34,55.5],[19.39,55.1],[19.49,54.9],[19.54,55.3],[19.59,54.7],[19.63,54.9],[19.68,55.7],[19.73,58.5],[19.78,62.4],[19.83,65.2],[19.88,66.0],[19.93,64.3],[19.98,60.4],[20.03,59.7],[20.08,64.3],[20.13,70.0],[20.20,77.0],[20.25,82.8],[20.30,86.2],[20.35,88.5],[20.40,89.3],[20.45,89.7],[20.50,89.7],[20.55,88.5],[20.59,87.8],[20.64,87.0],[20.69,85.6],[20.74,84.1],[20.79,82.8],[20.82,80.9],[20.87,78.9],[20.92,77.6],[20.97,78.2],[21.02,77.6],[21.07,76.8],[21.12,75.7],[21.17,75.1],[21.22,76.3],[21.27,75.1],[21.32,73.4],[21.37,75.5],[21.42,78.9],[21.47,80.9],[21.52,82.6],[21.57,82.8],[21.61,82.4],[21.66,80.9],[21.71,78.9],[21.76,78.4],[21.81,80.9],[21.86,81.2],[21.91,74.2],[21.96,75.1],[22.01,78.9],[22.06,85.1],[22.11,87.0],[22.16,88.9],[22.26,88.9],[22.31,88.3],[22.36,87.0],[22.41,86.6],[22.46,87.9],[22.55,87.9],[22.60,87.8],[22.70,88.5],[22.75,89.5],[22.80,89.8],[22.85,88.9],[22.90,87.8],[22.95,87.6],[23.00,89.1],[23.05,89.9],[23.15,89.4],[23.20,90.0],[23.25,90.2],[23.30,90.6],[23.35,91.2],[23.45,91.6],[23.50,91.8],[23.54,92.0],[23.59,91.8],[23.64,91.2],[23.69,90.4],[23.74,89.9],[23.79,89.1],[23.84,88.7],[23.89,87.0],[23.94,86.8],[23.99,88.1],[24.04,89.3],[24.09,90.8],[24.14,90.3],[24.29,90.2],[24.34,90.6],[24.39,90.0],[24.43,89.6],[24.53,90.4],[24.58,90.4],[24.63,89.7],[24.68,89.1],[24.73,88.7],[24.78,87.0],[24.83,87.0],[24.88,87.6],[24.93,87.9],[25.03,87.4],[25.18,87.8],[25.23,88.5],[25.27,89.3],[25.32,89.5],[25.42,90.0],[25.52,90.1],[25.57,89.7],[25.62,88.9],[25.67,88.3],[25.72,88.1],[25.82,88.7],[26.02,88.7],[26.12,88.5],[26.22,88.3],[26.32,88.9],[26.36,89.7],[26.41,91.0],[26.46,92.2],[26.51,92.9],[26.56,93.5],[26.61,94.1],[26.66,94.4],[26.76,94.3],[26.81,93.9],[26.86,93.5],[26.91,93.3],[26.96,92.7],[27.01,92.0],[27.06,91.4],[27.11,91.2],[27.16,91.6],[27.21,90.8],[27.26,90.6],[27.36,90.6],[27.40,91.2],[27.60,91.3],[27.70,91.4],[27.80,91.6],[27.90,92.2],[27.95,92.4],[28.05,92.3],[28.15,91.8],[28.24,92.2],[28.29,92.5],[28.39,92.4],[28.44,92.5],[28.54,92.3],[28.64,91.8],[28.74,90.8],[28.84,90.0],[28.94,89.6],[29.04,88.9],[29.14,88.3],[29.19,87.8],[29.28,87.0],[29.33,86.4],[29.38,85.8],[29.43,85.3],[29.48,84.3],[29.53,80.9],[29.58,75.1],[29.63,70.3],[29.68,70.0],[29.73,68.1],[29.76,67.7],[29.80,69.2],[29.83,70.0],[29.88,69.8],[29.93,69.0],[29.98,65.2],[30.03,63.7],[30.08,62.7],[30.13,62.6],[30.17,62.0],[30.22,61.4],[30.25,61.3],[30.29,62.4],[30.32,62.6],[30.37,63.1],[30.42,64.3],[30.47,67.1],[30.52,68.9],[30.57,69.4],[30.62,68.6],[30.67,68.2],[30.77,68.4],[30.82,67.9],[30.87,66.2],[30.92,65.2],[30.97,64.6],[31.02,64.5],[31.07,64.6],[31.11,65.0],[31.16,66.2],[31.21,67.5],[31.26,67.7],[31.31,68.5],[31.36,70.0],[31.41,71.3],[31.46,72.2],[31.51,75.1],[31.56,78.0],[31.61,76.1],[31.66,73.2],[31.71,70.0],[31.76,69.6],[31.81,68.6],[31.86,68.7],[31.91,67.1],[31.94,65.2],[31.98,62.4],[32.00,61.0]];

const rhMARv311 = [[1.00,73.2],[1.05,75.5],[1.10,78.0],[1.15,78.0],[1.20,77.2],[1.25,76.5],[1.30,77.0],[1.35,77.5],[1.40,76.8],[1.45,76.3],[1.49,76.7],[1.54,77.6],[1.59,76.3],[1.64,76.4],[1.69,78.5],[1.74,77.8],[1.79,77.6],[1.84,78.5],[1.89,77.8],[1.94,76.7],[1.99,75.9],[2.04,74.4],[2.09,74.3],[2.14,72.4],[2.19,72.1],[2.24,71.8],[2.29,71.7],[2.34,71.8],[2.39,72.0],[2.43,71.9],[2.48,71.8],[2.53,72.0],[2.58,72.2],[2.63,71.9],[2.68,72.6],[2.73,73.0],[2.78,71.7],[2.83,71.3],[2.88,71.7],[2.93,70.5],[2.98,69.2],[3.03,67.3],[3.08,66.5],[3.13,65.6],[3.18,65.0],[3.23,64.8],[3.28,64.6],[3.33,65.5],[3.38,66.3],[3.42,66.4],[3.47,66.0],[3.52,65.4],[3.57,63.1],[3.62,60.1],[3.67,58.1],[3.72,57.4],[3.77,57.2],[3.82,57.8],[3.87,59.3],[3.92,61.6],[3.97,62.7],[4.02,63.3],[4.07,64.5],[4.12,67.1],[4.17,68.1],[4.19,69.2],[4.22,73.2],[4.25,80.9],[4.28,88.5],[4.31,94.3],[4.33,97.5],[4.37,98.1],[4.41,98.9],[4.46,100],[4.56,99.9],[4.61,99.7],[4.66,99.4],[4.71,99.0],[4.76,98.5],[4.81,97.7],[4.86,96.7],[4.91,94.3],[4.96,92.2],[5.01,92.2],[5.06,92.7],[5.11,95.0],[5.16,96.2],[5.21,96.4],[5.26,95.2],[5.30,92.3],[5.35,87.9],[5.38,88.1],[5.42,90.4],[5.47,90.7],[5.51,89.5],[5.57,88.9],[5.61,85.1],[5.65,82.8],[5.70,81.2],[5.75,80.9],[5.80,79.1],[5.85,77.0],[5.90,76.6],[5.95,77.3],[6.00,77.6],[6.05,77.4],[6.10,76.1],[6.15,69.2],[6.19,66.8],[6.23,66.9],[6.26,68.1],[6.31,69.6],[6.34,68.3],[6.37,70.0],[6.39,73.2],[6.44,86.6],[6.49,98.9],[6.52,100],[6.56,100],[6.59,99.7],[6.64,99.5],[6.69,98.9],[6.72,94.3],[6.76,86.6],[6.79,82.8],[6.84,78.9],[6.89,76.5],[6.92,80.9],[6.96,81.6],[6.99,77.0],[7.04,73.2],[7.08,70.0],[7.12,67.5],[7.16,68.8],[7.19,66.2],[7.21,64.6],[7.25,65.2],[7.28,67.1],[7.33,70.0],[7.38,78.9],[7.43,88.5],[7.48,94.3],[7.53,97.5],[7.56,98.8],[7.61,98.9],[7.69,99.0],[7.73,99.1],[7.78,98.9],[7.83,98.7],[7.88,98.6],[7.98,98.9],[8.08,98.9],[8.13,99.0],[8.22,98.6],[8.32,98.7],[8.37,98.2],[8.47,98.4],[8.57,98.5],[8.67,98.7],[8.82,98.8],[8.92,98.7],[9.02,98.3],[9.07,98.5],[9.11,98.2],[9.16,98.8],[9.21,98.4],[9.31,98.7],[9.41,98.9],[9.51,98.9],[9.61,98.6],[9.66,98.2],[9.71,98.4],[9.76,98.1],[9.81,98.5],[9.86,98.2],[9.91,98.1],[9.96,97.8],[10.01,97.1],[10.05,95.6],[10.10,94.4],[10.15,93.5],[10.20,90.8],[10.25,91.2],[10.28,86.6],[10.30,80.9],[10.32,70.0],[10.33,64.3],[10.36,60.4],[10.38,59.0],[10.42,59.9],[10.45,61.8],[10.50,61.2],[10.55,61.0],[10.60,64.6],[10.65,60.6],[10.70,70.0],[10.72,81.2],[10.75,73.2],[10.78,68.0],[10.80,64.3],[10.85,60.4],[10.90,58.0],[10.93,62.4],[10.97,63.7],[11.01,63.1],[11.04,63.7],[11.09,61.4],[11.14,59.6],[11.19,61.6],[11.24,59.0],[11.29,63.9],[11.34,68.1],[11.37,70.0],[11.39,75.1],[11.44,83.2],[11.49,86.4],[11.54,84.3],[11.59,83.3],[11.64,82.8],[11.69,82.0],[11.74,77.0],[11.79,86.6],[11.82,98.7],[11.89,98.2],[11.98,98.8],[12.08,98.1],[12.18,97.3],[12.23,98.5],[12.28,96.6],[12.33,97.9],[12.38,98.5],[12.43,99.2],[12.48,99.5],[12.51,98.1],[12.55,98.9],[12.58,97.5],[12.63,96.2],[12.68,93.1],[12.73,98.5],[12.76,97.5],[12.80,88.5],[12.83,73.2],[12.88,73.2],[12.92,74.2],[12.97,74.7],[13.00,80.9],[13.04,94.3],[13.07,96.0],[13.12,94.3],[13.15,94.1],[13.19,96.4],[13.23,94.4],[13.27,88.5],[13.32,90.0],[13.37,87.4],[13.42,86.6],[13.47,87.4],[13.52,92.3],[13.57,95.4],[13.60,96.0],[13.65,90.4],[13.70,90.0],[13.75,92.0],[13.82,95.2],[13.86,96.0],[13.96,96.4],[14.06,95.6],[14.11,94.3],[14.16,93.1],[14.21,92.0],[14.26,88.5],[14.31,80.9],[14.36,73.2],[14.41,70.0],[14.44,69.4],[14.49,67.4],[14.52,67.5],[14.55,70.0],[14.58,75.1],[14.63,82.8],[14.68,87.6],[14.73,90.4],[14.78,93.6],[14.82,93.3],[14.87,92.0],[14.92,91.6],[14.95,88.5],[15.00,82.8],[15.03,80.9],[15.07,75.1],[15.10,70.0],[15.17,66.7],[15.23,64.8],[15.27,61.2],[15.31,60.8],[15.35,60.7],[15.40,61.0],[15.45,61.8],[15.50,66.2],[15.55,68.9],[15.58,70.0],[15.62,77.0],[15.67,82.8],[15.72,85.6],[15.76,83.7],[15.79,79.9],[15.84,78.9],[15.89,78.6],[15.94,77.0],[15.99,76.5],[16.04,76.3],[16.09,75.1],[16.14,72.2],[16.19,70.0],[16.22,69.4],[16.27,67.1],[16.32,65.0],[16.37,64.3],[16.42,64.5],[16.46,64.6],[16.49,63.3],[16.52,63.5],[16.57,62.4],[16.62,64.3],[16.67,69.0],[16.77,70.0],[16.82,70.9],[16.86,70.9],[16.91,69.2],[16.96,66.4],[17.01,65.0],[17.06,66.2],[17.11,65.8],[17.16,64.6],[17.21,65.2],[17.31,64.5],[17.41,65.6],[17.46,66.7],[17.51,65.3],[17.56,65.0],[17.61,64.3],[17.66,63.9],[17.71,63.7],[17.76,64.5],[17.85,66.2],[17.95,67.2],[18.00,67.7],[18.05,66.9],[18.08,70.0],[18.10,70.9],[18.20,72.2],[18.30,71.3],[18.35,72.2],[18.40,72.9],[18.47,72.6],[18.53,73.2],[18.60,72.6],[18.65,73.6],[18.70,74.9],[18.74,72.8],[18.79,71.9],[18.84,71.1],[18.89,72.1],[18.94,71.3],[18.99,73.2],[19.04,75.1],[19.09,76.5],[19.14,77.8],[19.19,78.9],[19.24,79.4],[19.29,79.7],[19.34,80.2],[19.39,80.1],[19.44,81.1],[19.49,83.2],[19.54,83.7],[19.59,88.5],[19.62,95.2],[19.65,96.9],[19.68,97.2],[19.73,97.5],[19.78,97.6],[19.88,97.7],[19.93,98.3],[19.98,98.4],[20.08,98.0],[20.18,98.1],[20.28,98.5],[20.38,98.1],[20.48,97.9],[20.58,98.4],[20.62,98.7],[20.72,98.5],[20.82,97.9],[20.87,97.7],[20.97,97.9],[21.07,98.2],[21.17,98.5],[21.27,98.6],[21.37,98.7],[21.42,98.9],[21.52,98.8],[21.61,97.9],[21.66,98.3],[21.71,99.2],[21.76,99.6],[21.86,99.2],[21.91,99.1],[22.01,99.7],[22.11,99.2],[22.16,98.7],[22.26,98.5],[22.31,97.9],[22.36,97.1],[22.41,96.9],[22.46,97.5],[22.51,98.1],[22.55,98.7],[22.65,98.9],[22.70,98.5],[22.73,96.9],[22.77,96.6],[22.80,97.5],[22.83,96.4],[22.87,95.4],[22.93,95.1],[22.97,97.7],[23.05,98.1],[23.15,98.1],[23.20,97.8],[23.25,98.2],[23.35,98.1],[23.45,98.1],[23.54,98.2],[23.64,98.3],[23.74,98.6],[23.84,98.2],[23.94,97.7],[24.04,97.9],[24.09,97.6],[24.19,98.1],[24.29,98.5],[24.43,98.8],[24.58,99.3],[24.73,99.1],[24.88,98.9],[24.98,98.6],[25.08,98.4],[25.13,98.1],[25.23,97.9],[25.27,97.8],[25.37,97.8],[25.47,98.3],[25.62,98.5],[25.72,98.5],[25.77,99.1],[25.87,98.9],[25.92,98.1],[25.97,97.5],[26.07,97.1],[26.12,95.2],[26.18,95.9],[26.22,96.6],[26.32,97.5],[26.41,98.1],[26.61,98.6],[26.81,98.4],[26.91,98.2],[27.01,98.4],[27.11,98.7],[27.21,98.4],[27.31,98.3],[27.40,98.5],[27.50,98.9],[27.60,99.3],[27.70,99.7],[27.80,100],[27.90,99.7],[28.00,99.2],[28.15,99.2],[28.29,99.4],[28.39,99.6],[28.49,99.6],[28.54,99.2],[28.64,99.1],[28.74,99.7],[28.84,98.9],[28.94,98.7],[29.04,99.0],[29.14,98.7],[29.24,98.1],[29.28,97.7],[29.33,97.1],[29.38,96.7],[29.43,96.6],[29.53,97.5],[29.58,97.0],[29.68,97.5],[29.78,97.0],[29.88,96.7],[29.93,96.5],[30.03,95.8],[30.08,96.7],[30.13,95.6],[30.17,95.2],[30.22,94.4],[30.27,94.1],[30.32,94.4],[30.35,93.3],[30.39,87.6],[30.42,80.9],[30.45,75.1],[30.47,70.0],[30.52,69.4],[30.57,69.0],[30.62,73.2],[30.69,78.0],[30.74,81.1],[30.79,76.0],[30.83,70.0],[30.87,66.4],[30.92,66.6],[30.97,67.3],[31.02,67.9],[31.07,68.9],[31.15,70.0],[31.20,71.9],[31.26,70.3],[31.31,69.6],[31.36,68.9],[31.41,69.2],[31.46,69.6],[31.51,70.5],[31.56,73.2],[31.61,78.9],[31.66,82.8],[31.71,84.1],[31.76,83.2],[31.81,82.0],[31.86,83.9],[31.91,84.1],[31.96,81.8],[32.00,78.9]];

// ---------------- drawing ----------------
const svg = d3.select("#chart");
svg.append("rect").attr("width", 4205).attr("height", 6151).attr("fill", "#fff");

const left = 698, right = 4157;
const pa = {top: 153, bottom: 2858};
const pb = {top: 3014, bottom: 5717};

const x = d3.scaleLinear().domain([1, 32]).range([left, right]);
const yA = d3.scaleLinear().domain([0, 0.35]).range([pa.bottom, pa.top]);
const yB = d3.scaleLinear().domain([40, 100]).range([pb.bottom, pb.top]);

const majorLen = 36, minorLen = 19, axisW = 4, lineW = 6.5;
const fontTick = 140;
const serif = "'Liberation Serif','Times New Roman',serif";

const dayMajor = d3.range(1, 32.001, 2);
const dayMinor = d3.range(1, 32.001, 0.5);

function styleAxis(g, keepText) {
  g.select(".domain").remove();
  g.selectAll(".tick line").attr("stroke", "#000").attr("stroke-width", axisW);
  if (!keepText) g.selectAll(".tick text").remove();
  else g.selectAll(".tick text").attr("fill", "#000").attr("font-size", fontTick).attr("font-family", serif);
}

function tickAxis(gen, tx, ty, values, len) {
  svg.append("g").attr("transform", `translate(${tx},${ty})`)
    .call(gen.tickValues(values).tickSize(-len).tickFormat(""))
    .call(g => styleAxis(g, false));
}

function drawFrame(p, yScale, yMajor, yMinor, yLabels, showXLabels) {
  tickAxis(d3.axisLeft(yScale), left, 0, yMinor, minorLen);
  tickAxis(d3.axisLeft(yScale), left, 0, yMajor, majorLen);
  tickAxis(d3.axisRight(yScale), right, 0, yMinor, minorLen);
  tickAxis(d3.axisRight(yScale), right, 0, yMajor, majorLen);
  tickAxis(d3.axisTop(x), 0, p.top, dayMinor, minorLen);
  tickAxis(d3.axisTop(x), 0, p.top, dayMajor, majorLen);
  tickAxis(d3.axisBottom(x), 0, p.bottom, dayMinor, minorLen);
  tickAxis(d3.axisBottom(x), 0, p.bottom, dayMajor, majorLen);
  // y labels
  const la = svg.append("g").attr("transform", `translate(${left},0)`)
    .call(d3.axisLeft(yScale).tickValues(yMajor).tickSize(0).tickPadding(53).tickFormat((d, i) => yLabels[i]))
    .call(g => styleAxis(g, true));
  la.selectAll(".tick line").remove();
  la.selectAll(".tick text").attr("dy", "0.34em");
  if (showXLabels) {
    const bl = svg.append("g").attr("transform", `translate(0,${p.bottom})`)
      .call(d3.axisBottom(x).tickValues(dayLabels).tickSize(0).tickPadding(86).tickFormat(d => String(d)))
      .call(g => styleAxis(g, true));
    bl.selectAll(".tick line").remove();
    bl.selectAll(".tick text").attr("dy", "0.72em");
  }
  svg.append("rect").attr("x", left).attr("y", p.top).attr("width", right - left).attr("height", p.bottom - p.top)
    .attr("fill", "none").attr("stroke", "#000").attr("stroke-width", axisW);
}

function drawSeries(data, yScale, color) {
  const line = d3.line().x(d => x(d[0])).y(d => yScale(d[1])).curve(d3.curveLinear);
  svg.append("path").datum(data).attr("d", line).attr("fill", "none")
    .attr("stroke", color).attr("stroke-width", lineW)
    .attr("stroke-linejoin", "round").attr("stroke-linecap", "round");
}

drawSeries(fluxObs, yA, seriesColors[0]);
drawSeries(fluxMARv2, yA, seriesColors[1]);
drawSeries(fluxMARv311, yA, seriesColors[2]);
drawSeries(rhObs, yB, seriesColors[0]);
drawSeries(rhMARv2, yB, seriesColors[1]);
drawSeries(rhMARv311, yB, seriesColors[2]);

drawFrame(pa, yA, fluxTickValues, d3.range(0, 0.3501, 0.01), fluxTickLabels, false);
drawFrame(pb, yB, rhTickValues, d3.range(40, 100.01, 2), rhTickLabels, true);

// legend
const legY = [331, 499, 666];
seriesNames.forEach((name, i) => {
  svg.append("line").attr("x1", 809).attr("x2", 1049).attr("y1", legY[i]).attr("y2", legY[i])
    .attr("stroke", seriesColors[i]).attr("stroke-width", lineW);
  svg.append("text").attr("x", 1076).attr("y", legY[i] + 57).attr("font-size", 142).text(name);
});

// panel labels
svg.append("text").attr("x", 56).attr("y", 146).attr("font-size", 150).text("(a)");
svg.append("text").attr("x", 56).attr("y", 3017).attr("font-size", 150).text("(b)");

// y titles
svg.append("text").attr("transform", "translate(136,1523) rotate(-90)")
  .attr("text-anchor", "middle").attr("font-size", 142).text("Near-surface drifting-snow mass flux");
const tb = svg.append("text").attr("transform", "translate(312,1523) rotate(-90)")
  .attr("text-anchor", "middle").attr("font-size", 142);
tb.append("tspan").text("[kg m");
tb.append("tspan").attr("font-size", 92).attr("dy", -52).text("-2");
tb.append("tspan").attr("dy", 52).text(" s");
tb.append("tspan").attr("font-size", 92).attr("dy", -52).text("-1");
tb.append("tspan").attr("dy", 52).text("]");

svg.append("text").attr("transform", "translate(214,4326) rotate(-90)")
  .attr("text-anchor", "middle").attr("font-size", 142).text("2 m relative humidity [%]");

// x title
svg.append("text").attr("x", 2435).attr("y", 6085).attr("text-anchor", "middle")
  .attr("font-size", 142).text("January 2011");
</script>
</body></html>
